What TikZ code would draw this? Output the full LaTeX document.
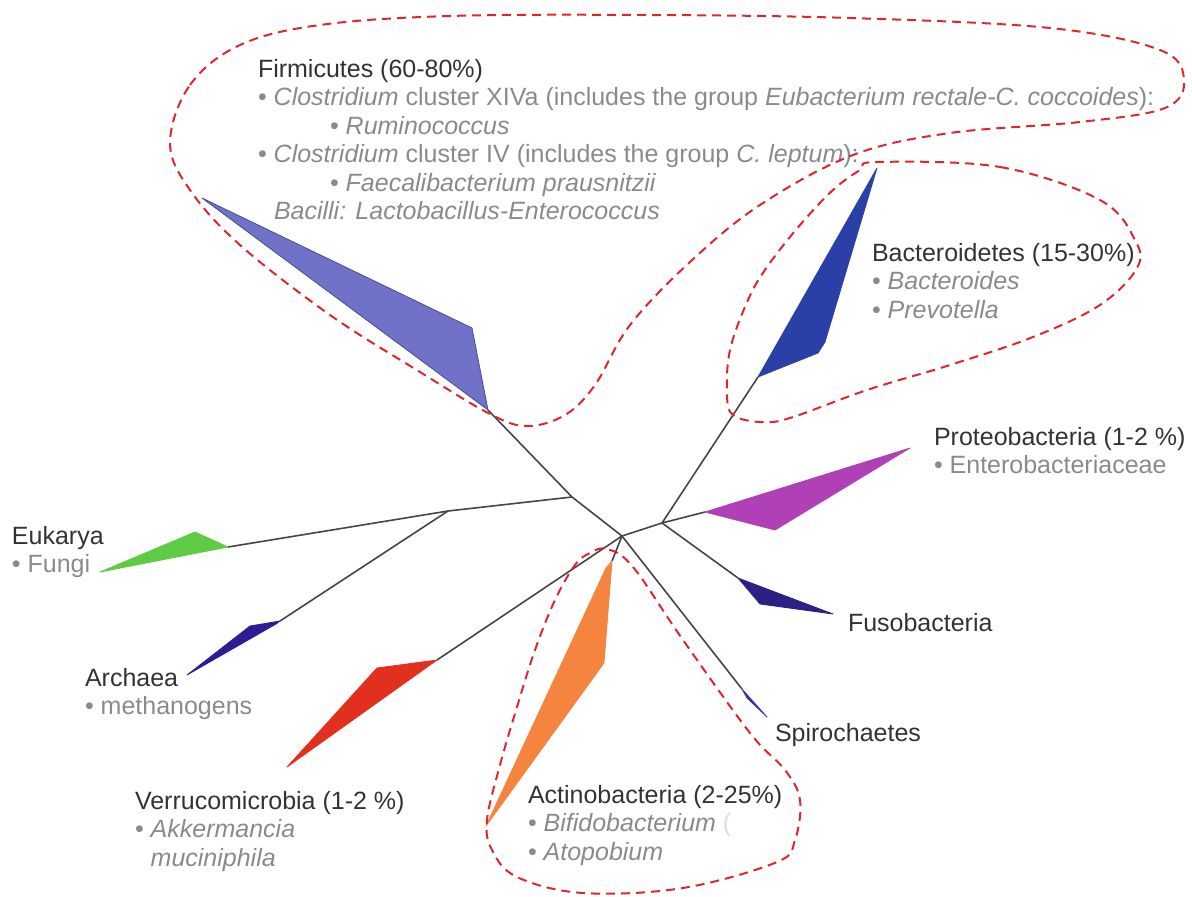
\documentclass[tikz,border=0pt]{standalone}
\usepackage{fontspec}
\setmainfont{Liberation Sans}
\usetikzlibrary{positioning, arrows.meta}

\definecolor{firmblue}{HTML}{6F72C6}
\definecolor{firmedge}{HTML}{4A4C94}
\definecolor{bactblue}{HTML}{2B40A6}
\definecolor{protpink}{HTML}{B040B5}
\definecolor{fusonavy}{HTML}{2B2185}
\definecolor{spiroblue}{HTML}{3A34A0}
\definecolor{actorange}{HTML}{F5843E}
\definecolor{verrred}{HTML}{E2301E}
\definecolor{archindigo}{HTML}{2D1D95}
\definecolor{eukgreen}{HTML}{5DCB44}
\definecolor{loopred}{HTML}{E0262B}
\definecolor{linegray}{HTML}{454545}
\definecolor{headgray}{HTML}{333333}
\definecolor{subgray}{HTML}{8A8A8A}

\newcommand{\subtxt}[1]{\textcolor{subgray}{#1}}

\begin{document}
\begin{tikzpicture}[x=1pt, y=-1pt]
                \tikzset{
                    branch/.style={draw=linegray, line width=1.6pt},
                    clade/.style={line width=0.8pt, line join=round},
                    taxon/.style={inner sep=0pt, outer sep=0pt, align=left, anchor=north west,
                        text=headgray, font=\fontsize{25}{28.5}\selectfont},
                    grouploop/.style={draw=loopred, dash pattern=on 9pt off 6pt, line width=2pt}
                }
                \useasboundingbox (0,0) rectangle (1192,897);

                % INNER NODES
                \coordinate (root) at (622,536);
                \coordinate (nA) at (572,497);
                \coordinate (nB) at (448,511);
                \coordinate (nC) at (662,523);

                % CLADE TIPS
                \coordinate (firmT) at (488,410);
                \coordinate (eukT) at (228,547);
                \coordinate (archT) at (280,621);
                \coordinate (verrT) at (437,660);
                \coordinate (actT) at (612,561);
                \coordinate (spiT) at (742,689);
                \coordinate (bactT) at (758,377);
                \coordinate (protT) at (705,512);
                \coordinate (fusoT) at (738,578);

                % BRANCHES
                \path[branch]
                    (root) edge (nA)
                    (nA) edge (firmT)
                    (nA) edge (nB)
                    (nB) edge (eukT)
                    (nB) edge (archT)
                    (root) edge (verrT)
                    (root) edge (actT)
                    (root) edge (spiT)
                    (root) edge (nC)
                    (nC) edge (bactT)
                    (nC) edge (protT)
                    (nC) edge (fusoT);

                % CLADES
                \filldraw[clade, fill=firmblue, draw=firmedge] (firmT) -- (202,198) -- (472,328) -- cycle;
                \filldraw[clade, fill=bactblue, draw=bactblue] (bactT) -- (877,168) -- (825,342) -- (818,353) -- cycle;
                \filldraw[clade, fill=protpink, draw=protpink] (protT) -- (910,448) -- (775,530) -- cycle;
                \filldraw[clade, fill=fusonavy, draw=fusonavy] (fusoT) -- (833,614) -- (760,604) -- cycle;
                \filldraw[clade, fill=spiroblue, draw=spiroblue] (spiT) -- (767,717) -- (747,698) -- cycle;
                \filldraw[clade, fill=actorange, draw=actorange] (actT) -- (604,663) -- (486,826) -- (606,568) -- cycle;
                \filldraw[clade, fill=verrred, draw=verrred] (verrT) -- (377,668) -- (287,767) -- cycle;
                \filldraw[clade, fill=archindigo, draw=archindigo] (archT) -- (250,626) -- (187,675) -- (276,624) -- cycle;
                \filldraw[clade, fill=eukgreen, draw=eukgreen] (eukT) -- (195,532) -- (100,572) -- cycle;

                % LABELS
                \node[taxon] (firm) at (258,59) {Firmicutes (60-80\%)\\
                    \subtxt{• \textit{Clostridium} cluster XIVa (includes the group \textit{Eubacterium rectale-C.~coccoides}):}\\
                    \subtxt{\hspace*{72pt}• \textit{Ruminococcus}}\\
                    \subtxt{• \textit{Clostridium} cluster IV (includes the group \textit{C.~leptum}):}\\
                    \subtxt{\hspace*{72pt}• \textit{Faecalibacterium prausnitzii}}\\
                    \subtxt{\hspace*{16pt}\textit{Bacilli: Lactobacillus-Enterococcus}}};
                \node[taxon] (bact) at (872,243) {Bacteroidetes (15-30\%)\\
                    \subtxt{• \textit{Bacteroides}}\\
                    \subtxt{• \textit{Prevotella}}};
                \node[taxon] (prot) at (934,427) {Proteobacteria (1-2 \%)\\
                    \subtxt{• Enterobacteriaceae}};
                \node[taxon] (fuso) at (848,613) {Fusobacteria};
                \node[taxon] (spiro) at (775,723) {Spirochaetes};
                \node[taxon] (act) at (528,785) {Actinobacteria (2-25\%)\\
                    \subtxt{• \textit{Bifidobacterium} \textcolor{subgray!30}{(}}\\
                    \subtxt{• \textit{Atopobium}}};
                \node[taxon] (verr) at (135,791) {Verrucomicrobia (1-2 \%)\\
                    \subtxt{• \textit{Akkermancia}}\\
                    \subtxt{\phantom{• }\textit{muciniphila}}};
                \node[taxon] (arch) at (85,668) {Archaea\\
                    \subtxt{• methanogens}};
                \node[taxon] (euk) at (12,526) {Eukarya\\
                    \subtxt{• Fungi}};

                % GROUP OUTLINES
                \draw[grouploop] plot[smooth cycle, tension=0.6] coordinates {
                    (170,143) (190,85) (240,45) (320,25) (450,16) (650,15) (850,18) (1050,28)
                    (1160,50) (1184,80) (1165,108) (1080,122) (950,133) (853,155) (760,205)
                    (690,262) (630,325) (595,385) (565,415) (527,426) (490,414) (420,372)
                    (330,315) (240,245) (190,190)};
                \draw[grouploop] plot[smooth cycle, tension=0.6] coordinates {
                    (877,162) (1000,167) (1100,200) (1135,240) (1137,268) (1100,305) (1033,337)
                    (950,365) (867,390) (790,418) (760,422) (733,415) (727,395) (730,350)
                    (748,300) (767,267) (800,225) (833,190) (860,170)};
                \draw[grouploop] plot[smooth cycle, tension=0.6] coordinates {
                    (607,549) (633,567) (683,640) (750,733) (785,770) (800,800) (795,840)
                    (777,862) (683,888) (583,893) (517,877) (492,850) (487,820) (500,765)
                    (517,707) (535,650) (555,600) (575,565) (590,553)};

            \end{tikzpicture}
\end{document}
